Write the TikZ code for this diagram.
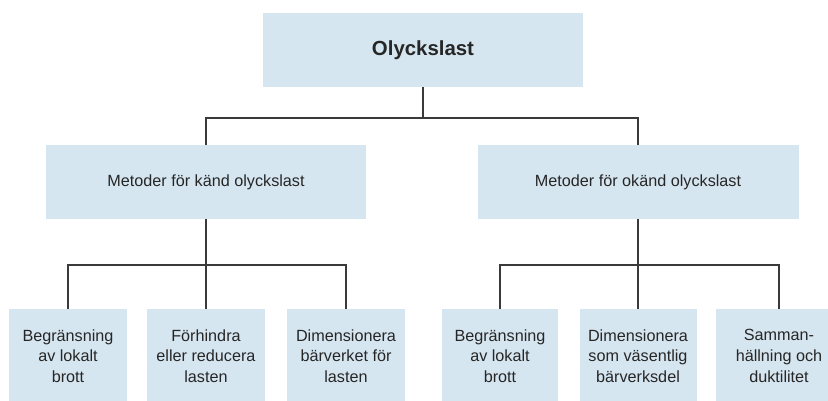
\documentclass[tikz,border=0pt]{standalone}
\usepackage{fontspec}
\setmainfont{Liberation Sans}
\definecolor{boxfill}{HTML}{D6E6F0}
\definecolor{linecol}{HTML}{3A3A3A}
\definecolor{txtcol}{HTML}{262626}
\begin{document}
\begin{tikzpicture}[x=1pt,y=-1pt,
  box/.style={fill=boxfill,draw=none,inner sep=0pt,align=center,text=txtcol},
  topbox/.style={box,minimum width=320pt,minimum height=74pt,font=\fontsize{20.4}{24}\selectfont\bfseries},
  midbox/.style={box,minimum width=320pt,minimum height=74pt,font=\fontsize{16.2}{20}\selectfont},
  leafbox/.style={box,minimum width=118pt,minimum height=94pt,font=\fontsize{16.2}{20.7}\selectfont},
  conn/.style={draw=linecol,line width=1.9pt}]
\useasboundingbox (0,0) rectangle (828,401);
\clip (0,0) rectangle (828,401);
\fill[white] (0,0) rectangle (828,401);
\node[topbox] (top) at (423,50) {Olyckslast};
\node[midbox] (lm) at (206,182) {Metoder för känd olyckslast};
\node[midbox,minimum width=321pt] (rm) at (638,182) {Metoder för okänd olyckslast};
\node[leafbox] (b1) at (68,356) {Begränsning\\av lokalt\\brott};
\node[leafbox] (b2) at (206,356) {Förhindra\\eller reducera\\lasten};
\node[leafbox] (b3) at (346,356) {Dimensionera\\bärverket för\\lasten};
\node[leafbox,minimum width=116pt] (b4) at (500,356) {Begränsning\\av lokalt\\brott};
\node[leafbox,minimum width=117pt] (b5) at (638,356) {Dimensionera\\som väsentlig\\bärverksdel};
\node[leafbox,minimum width=126pt] (b6) at (779,356) {Samman-\\hällning och\\duktilitet};
\coordinate (j0) at (423,118);
\coordinate (j1) at (206,265);
\coordinate (j2) at (638,265);
\draw[conn] (top.south) -- (j0);
\draw[conn] (lm.north) |- (j0) -| (rm.north);
\draw[conn] (lm.south) -- (j1);
\draw[conn] (b1.north) |- (j1) -| (b3.north);
\draw[conn] (j1) -- (b2.north);
\draw[conn] (rm.south) -- (j2);
\draw[conn] (b4.north) |- (j2) -| (b6.north);
\draw[conn] (j2) -- (b5.north);
\end{tikzpicture}
\end{document}
